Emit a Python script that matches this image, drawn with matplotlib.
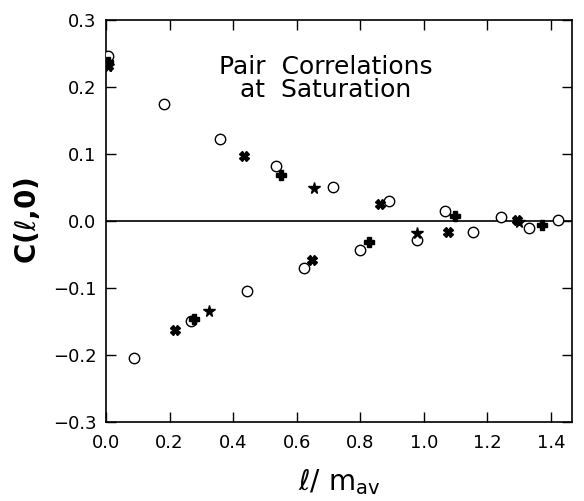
import numpy as np
import matplotlib
matplotlib.use('Agg')
import matplotlib.pyplot as plt

# open circles
circ_x = [0.007, 0.087, 0.181, 0.267, 0.358, 0.445, 0.536, 0.623, 0.714, 0.800,
          0.890, 0.977, 1.065, 1.153, 1.242, 1.331, 1.421]
circ_y = [0.247, -0.205, 0.175, -0.149, 0.122, -0.104, 0.082, -0.070, 0.051, -0.044,
          0.030, -0.028, 0.015, -0.016, 0.006, -0.010, 0.001]

# bold crosses
cross_x = [0.007, 0.217, 0.433, 0.648, 0.863, 1.075, 1.294]
cross_y = [0.232, -0.163, 0.097, -0.059, 0.026, -0.017, 0.001]

# filled plus signs
plus_x = [0.007, 0.277, 0.552, 0.826, 1.097, 1.373]
plus_y = [0.238, -0.147, 0.069, -0.032, 0.007, -0.006]

# filled stars
star_x = [0.007, 0.323, 0.653, 0.977, 1.298]
star_y = [0.231, -0.135, 0.049, -0.018, -0.002]

xticks = [0.0, 0.2, 0.4, 0.6, 0.8, 1.0, 1.2, 1.4]
yticks = [-0.3, -0.2, -0.1, 0.0, 0.1, 0.2, 0.3]


def main():
    fig = plt.figure(figsize=(5.84, 5.01), dpi=100)
    ax = fig.add_axes([0.1815, 0.158, 0.7975, 0.802])

    ax.axhline(0.0, color='black', lw=1.2, zorder=1)

    ax.plot(circ_x, circ_y, 'o', ms=7.5, mfc='white', mec='black', mew=1.0, zorder=3)
    ax.plot(cross_x, cross_y, 'X', ms=7, color='black', zorder=4)
    ax.plot(plus_x, plus_y, 'P', ms=7.5, color='black', zorder=4)
    ax.plot(star_x, star_y, '*', ms=8.5, color='black', zorder=4)

    ax.set_xlim(0.0, 1.465)
    ax.set_ylim(-0.3, 0.3)
    ax.set_xticks(xticks)
    ax.set_yticks(yticks)
    ax.set_xticklabels(['{:.1f}'.format(t) for t in xticks])
    ax.set_yticklabels(['{:.1f}'.format(t).replace('-', '\u2212') for t in yticks])
    ax.tick_params(direction='in', length=7, width=1, labelsize=13,
                   top=True, right=True)
    ax.tick_params(axis='x', pad=9)
    ax.tick_params(axis='y', pad=7)
    for s in ax.spines.values():
        s.set_linewidth(1.2)

    ax.text(0.69, 0.213, 'Pair  Correlations\nat  Saturation', ha='center', va='center',
            fontsize=18, linespacing=0.95)

    ax.set_ylabel(r'C($\ell$,0)', fontsize=20, fontweight='bold', labelpad=8)
    ax.set_xlabel(r'$\ell$/ m$_{\rm av}$', fontsize=20, labelpad=11)

    fig.savefig('out.png', dpi=100)


if __name__ == "__main__":
    main()
